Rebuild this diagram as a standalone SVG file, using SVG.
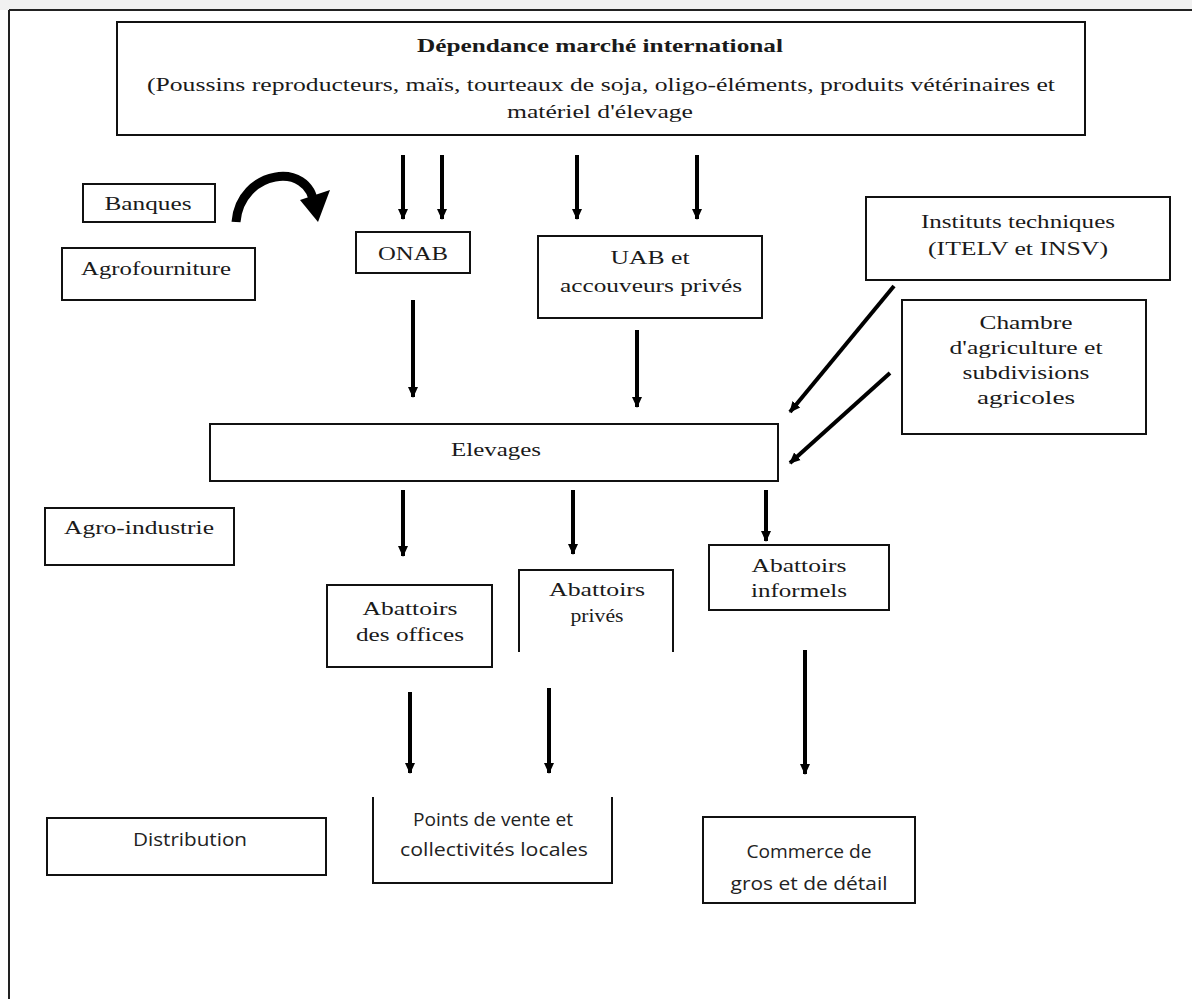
<svg xmlns="http://www.w3.org/2000/svg" width="1192" height="999" viewBox="0 0 1192 999">
<style>
.box{fill:#fff;stroke:#111;stroke-width:2}
.open{fill:none;stroke:#111;stroke-width:2}
.t{font-family:"Liberation Serif","Times New Roman",serif;font-size:19px;fill:#1a1a1a;text-anchor:middle}
.s{font-family:"Open Sans","Liberation Sans",sans-serif;font-size:18px;fill:#222;text-anchor:middle}
.a{stroke:#000;stroke-width:4;fill:none;marker-end:url(#ah)}
</style>
<defs>
<marker id="ah" markerUnits="userSpaceOnUse" markerWidth="12" markerHeight="12" viewBox="0 0 12 12" refX="10" refY="6" orient="auto">
<path d="M0,1 L11,6 L0,11 Z" fill="#000"/>
</marker>
</defs>
<rect x="0" y="0" width="1192" height="10" fill="#f1f1f1"/>
<g id="frame">
<line x1="9" y1="10" x2="1192" y2="10" stroke="#222" stroke-width="2"/>
<line x1="9" y1="10" x2="9" y2="999" stroke="#222" stroke-width="2"/>
</g>
<g id="marche">
<rect class="box" x="117" y="22" width="968" height="113"/>
<text class="t" x="600" y="52" font-weight="bold" textLength="366" lengthAdjust="spacingAndGlyphs">Dépendance marché international</text>
<text class="t" x="601" y="91" textLength="908" lengthAdjust="spacingAndGlyphs">(Poussins reproducteurs, maïs, tourteaux de soja, oligo-éléments, produits vétérinaires et</text>
<text class="t" x="600" y="118" textLength="186" lengthAdjust="spacingAndGlyphs">matériel d'élevage</text>
</g>
<g id="banques">
<rect class="box" x="83" y="184" width="132" height="38"/>
<text class="t" x="148" y="210" textLength="87" lengthAdjust="spacingAndGlyphs">Banques</text>
</g>
<g id="agrofourniture">
<rect class="box" x="62" y="248" width="193" height="52"/>
<text class="t" x="156" y="275" textLength="150" lengthAdjust="spacingAndGlyphs">Agrofourniture</text>
</g>
<g id="onab">
<rect class="box" x="356" y="232" width="114" height="41"/>
<text class="t" x="413" y="260" textLength="70" lengthAdjust="spacingAndGlyphs">ONAB</text>
</g>
<g id="uab">
<rect class="box" x="538" y="236" width="224" height="82"/>
<text class="t" x="650" y="264" textLength="79" lengthAdjust="spacingAndGlyphs">UAB et</text>
<text class="t" x="651" y="292" textLength="182" lengthAdjust="spacingAndGlyphs">accouveurs privés</text>
</g>
<g id="instituts">
<rect class="box" x="866" y="197" width="304" height="83"/>
<text class="t" x="1018" y="228" textLength="194" lengthAdjust="spacingAndGlyphs">Instituts techniques</text>
<text class="t" x="1018" y="255" textLength="180" lengthAdjust="spacingAndGlyphs">(ITELV et INSV)</text>
</g>
<g id="chambre">
<rect class="box" x="902" y="300" width="244" height="134"/>
<text class="t" x="1026" y="329" textLength="93" lengthAdjust="spacingAndGlyphs">Chambre</text>
<text class="t" x="1026" y="354" textLength="153" lengthAdjust="spacingAndGlyphs">d'agriculture et</text>
<text class="t" x="1026" y="379" textLength="127" lengthAdjust="spacingAndGlyphs">subdivisions</text>
<text class="t" x="1026" y="404" textLength="98" lengthAdjust="spacingAndGlyphs">agricoles</text>
</g>
<g id="elevages">
<rect class="box" x="210" y="424" width="568" height="57"/>
<text class="t" x="496" y="456" textLength="90" lengthAdjust="spacingAndGlyphs">Elevages</text>
</g>
<g id="agroindustrie">
<rect class="box" x="45" y="508" width="189" height="57"/>
<text class="t" x="139" y="534" textLength="150" lengthAdjust="spacingAndGlyphs">Agro-industrie</text>
</g>
<g id="abattoirs-offices">
<rect class="box" x="327" y="585" width="165" height="82"/>
<text class="t" x="410" y="615" textLength="95" lengthAdjust="spacingAndGlyphs">Abattoirs</text>
<text class="t" x="410" y="641" textLength="108" lengthAdjust="spacingAndGlyphs">des offices</text>
</g>
<g id="abattoirs-prives">
<path class="open" d="M519,652 V570 H673 V652"/>
<text class="t" x="597" y="596" textLength="96" lengthAdjust="spacingAndGlyphs">Abattoirs</text>
<text class="t" x="597" y="622" textLength="53" lengthAdjust="spacingAndGlyphs">privés</text>
</g>
<g id="abattoirs-informels">
<rect class="box" x="709" y="545" width="180" height="65"/>
<text class="t" x="799" y="572" textLength="95" lengthAdjust="spacingAndGlyphs">Abattoirs</text>
<text class="t" x="799" y="597" textLength="96" lengthAdjust="spacingAndGlyphs">informels</text>
</g>
<g id="distribution">
<rect class="box" x="47" y="818" width="279" height="57"/>
<text class="s" x="190" y="846" textLength="114" lengthAdjust="spacingAndGlyphs">Distribution</text>
</g>
<g id="points-vente">
<path class="open" d="M373,797 V883 H612 V797"/>
<text class="s" x="493" y="826" textLength="160" lengthAdjust="spacingAndGlyphs">Points de vente et</text>
<text class="s" x="494" y="856" textLength="188" lengthAdjust="spacingAndGlyphs">collectivités locales</text>
</g>
<g id="commerce">
<rect class="box" x="703" y="817" width="212" height="86"/>
<text class="s" x="809" y="858" textLength="125" lengthAdjust="spacingAndGlyphs">Commerce de</text>
<text class="s" x="809" y="890" textLength="157" lengthAdjust="spacingAndGlyphs">gros et de détail</text>
</g>
<g id="connectors">
<path d="M236,222 C240,170 310,160 314,205" stroke="#000" stroke-width="9" fill="none"/>
<polygon points="300,200 330,190 318,222" fill="#000"/>
<line class="a" x1="403" y1="155" x2="403" y2="219"/>
<line class="a" x1="442" y1="155" x2="442" y2="219"/>
<line class="a" x1="577" y1="155" x2="577" y2="219"/>
<line class="a" x1="697" y1="155" x2="697" y2="219"/>
<line class="a" x1="413" y1="300" x2="413" y2="397"/>
<line class="a" x1="637" y1="330" x2="637" y2="407"/>
<line class="a" x1="894" y1="286" x2="790" y2="412"/>
<line class="a" x1="890" y1="373" x2="790" y2="463"/>
<line class="a" x1="403" y1="490" x2="403" y2="556"/>
<line class="a" x1="573" y1="490" x2="573" y2="554"/>
<line class="a" x1="766" y1="490" x2="766" y2="541"/>
<line class="a" x1="410" y1="692" x2="410" y2="773"/>
<line class="a" x1="549" y1="688" x2="549" y2="773"/>
<line class="a" x1="805" y1="650" x2="805" y2="774"/>
</g>
</svg>
